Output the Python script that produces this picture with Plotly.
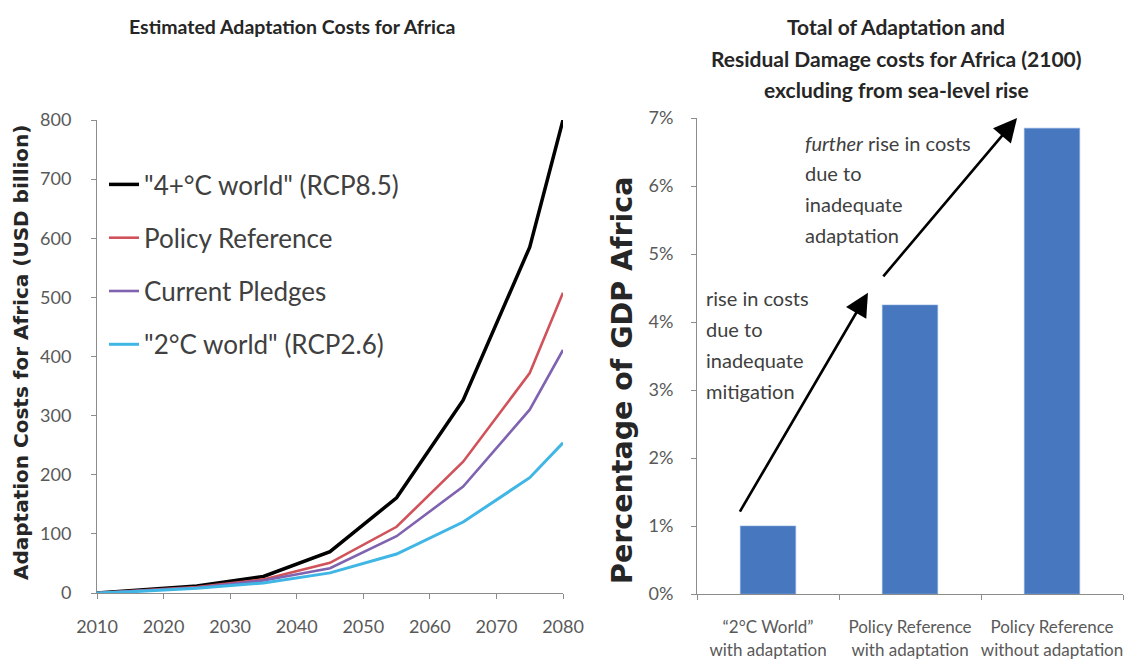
import plotly.graph_objects as go

# ---- Left panel: adaptation cost pathways (USD billion) ----
years = [2010, 2015, 2025, 2035, 2045, 2055, 2065, 2075, 2080]
rcp85 = [0, 4, 12, 28, 70, 161, 326, 585, 800]
policy_reference = [0, 3, 10, 23, 51, 112, 222, 372, 508]
current_pledges = [0, 3, 9, 21, 42, 96, 180, 310, 411]
rcp26 = [0, 2, 8, 17, 34, 66, 120, 195, 254]

series_names = ['"4+°C world" (RCP8.5)', "Policy Reference", "Current Pledges", '"2°C world" (RCP2.6)']
series_colors = ["#000000", "#D0525A", "#7F62B0", "#3FB6E4"]
series_widths = [3.5, 2.6, 2.6, 3.0]

year_ticks = [2010, 2020, 2030, 2040, 2050, 2060, 2070, 2080]
cost_ticks = [0, 100, 200, 300, 400, 500, 600, 700, 800]

# ---- Right panel: total cost as share of GDP (2100) ----
scenarios = ["2C world with adaptation", "Policy Reference with adaptation", "Policy Reference without adaptation"]
scenario_labels = ["\u201c2\u00b0C World\u201d<br>with adaptation",
                   "Policy Reference<br>with adaptation",
                   "Policy Reference<br>without adaptation"]
gdp_share = [0.010, 0.0425, 0.0685]
share_ticks = [0, 0.01, 0.02, 0.03, 0.04, 0.05, 0.06, 0.07]

W, H = 1137, 663
TEXT_DARK = "#262626"
TICK_GREY = "#595959"
AXIS_GREY = "#8C8C8C"
FONT = "Lato"


def px(x):
    return x / W


def py(y):
    return 1 - y / H


def label(text, x, y, font, xanchor="center", angle=0):
    fig.add_annotation(x=px(x), y=py(y), xref="paper", yref="paper", showarrow=False,
                       xanchor=xanchor, yanchor="middle", textangle=angle,
                       text=text, font=font)


fig = go.Figure()

for name, vals, col, lw in zip(series_names, [rcp85, policy_reference, current_pledges, rcp26],
                               series_colors, series_widths):
    fig.add_trace(go.Scatter(
        x=years, y=vals, name=name, mode="lines",
        line=dict(color=col, width=lw),
        legendgroup=name, xaxis="x", yaxis="y",
    ))

fig.add_trace(go.Bar(
    x=scenarios, y=gdp_share, xaxis="x2", yaxis="y2",
    marker=dict(color="#4677BF", line=dict(color="#7FA6DA", width=0.6)),
    showlegend=False,
))

axis_common = dict(
    showline=True, linecolor=AXIS_GREY, linewidth=1,
    ticks="outside", ticklen=5, tickcolor=AXIS_GREY, tickwidth=1,
    showgrid=False, zeroline=False, automargin=False,
)
tick_font = dict(family=FONT, size=18, color=TICK_GREY)

fig.update_layout(
    width=W, height=H,
    margin=dict(l=0, r=0, t=0, b=0),
    paper_bgcolor="white", plot_bgcolor="white",
    font=dict(family=FONT, color=TEXT_DARK),
    bargap=0.61,
    xaxis=dict(domain=[px(97), px(563)], range=[2010, 2080],
               tickvals=year_ticks, ticklabelstandoff=12, anchor="y",
               tickfont=tick_font, **axis_common),
    yaxis=dict(domain=[py(593), py(120)], range=[0, 800],
               tickvals=cost_ticks, ticklabelstandoff=16, anchor="x",
               tickfont=tick_font, **axis_common),
    xaxis2=dict(domain=[px(697), px(1123)], type="category",
                tickvals=scenarios, ticktext=scenario_labels, tickson="boundaries",
                tickangle=0, ticklabelstandoff=18, anchor="y2",
                tickfont=dict(family=FONT, size=17, color=TICK_GREY), **axis_common),
    yaxis2=dict(domain=[py(594), py(118)], range=[0, 0.07],
                tickvals=share_ticks, tickformat=".0%", ticklabelstandoff=14,
                anchor="x2", tickfont=tick_font, **axis_common),
    legend=dict(
        x=px(104), y=py(161), xanchor="left", yanchor="top",
        font=dict(family=FONT, size=26, color="#404040"),
        tracegroupgap=16.5, itemwidth=30, bgcolor="rgba(0,0,0,0)",
    ),
    showlegend=True,
)

# Titles
title_font_l = dict(family=FONT, size=19.5, color=TEXT_DARK)
title_font_r = dict(family=FONT, size=21, color=TEXT_DARK)
label("<b>Estimated Adaptation Costs for Africa</b>", 292, 27, title_font_l)
for line, yy in zip(["Total of Adaptation and",
                     "Residual Damage costs for Africa (2100)",
                     "excluding from sea-level rise"], [27, 58, 90]):
    label(f"<b>{line}</b>", 896, yy, title_font_r)

# Axis titles
label("<b>Adaptation Costs for Africa (USD billion)</b>", 21, 353,
      dict(family="DejaVu Sans", size=20, color=TEXT_DARK), angle=-90)
label("<b>Percentage of GDP Africa</b>", 623, 381,
      dict(family="DejaVu Sans", size=28.5, color=TEXT_DARK), angle=-90)

# Arrows between bars
fig.add_annotation(x=0.704, y=0.0443, ax=-0.204, ay=0.0119,
                   xref="x2", yref="y2", axref="x2", ayref="y2",
                   showarrow=True, arrowhead=2, arrowsize=1.8, arrowwidth=2.6,
                   arrowcolor="#000000", text="")
fig.add_annotation(x=1.754, y=0.0700, ax=0.803, ay=0.0465,
                   xref="x2", yref="y2", axref="x2", ayref="y2",
                   showarrow=True, arrowhead=2, arrowsize=1.8, arrowwidth=2.6,
                   arrowcolor="#000000", text="")

# Arrow notes
note_font = dict(family=FONT, size=20, color="#404040")
for line, yy in zip(["rise in costs", "due to", "inadequate", "mitigation"], [298, 329, 360, 391]):
    label(line, 704, yy, note_font, xanchor="left")
for line, yy in zip(["<i>further</i> rise in costs", "due to", "inadequate", "adaptation"],
                    [143, 173, 204, 235]):
    label(line, 803, yy, note_font, xanchor="left")

fig.write_html("out.html")
